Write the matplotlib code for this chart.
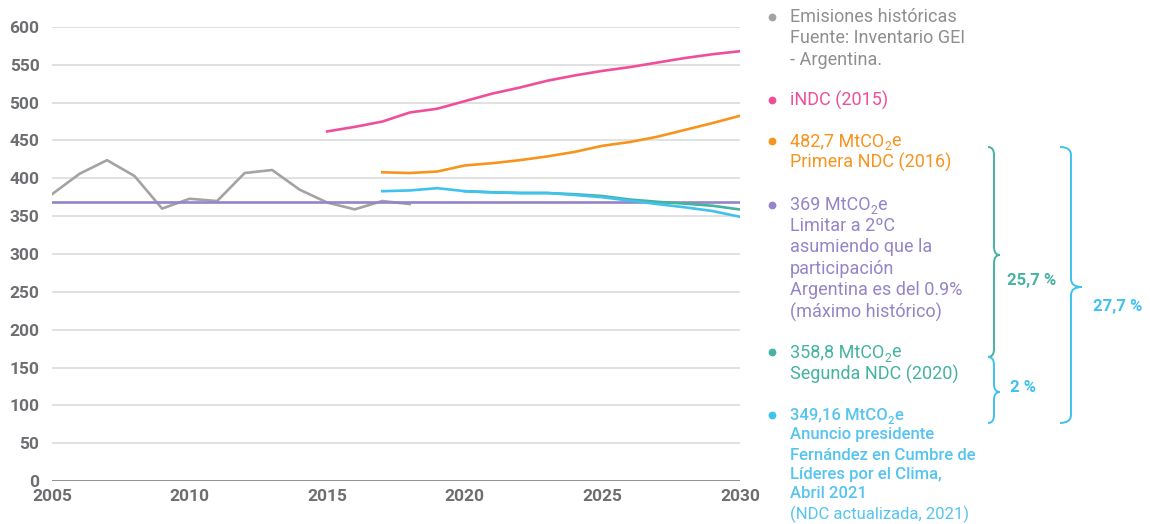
import matplotlib
matplotlib.use("Agg")
import matplotlib.pyplot as plt
from matplotlib.path import Path
from matplotlib.patches import PathPatch

plt.rcParams['font.family'] = ['Roboto', 'DejaVu Sans']

# data (MtCO2e)
hist_years = list(range(2005, 2019))
hist_vals = [379, 406, 424, 403, 360, 373, 370, 407, 411, 385, 368, 359, 370, 366]

indc_years = list(range(2015, 2031))
indc_vals = [462, 468, 475, 487, 492, 502, 512, 520, 529, 536, 542, 547, 553, 559, 564, 568]

ndc1_years = list(range(2017, 2031))
ndc1_vals = [408, 407, 409, 417, 420, 424, 429, 435, 443, 448, 455, 464, 473, 482.7]

ndc2_years = list(range(2020, 2031))
ndc2_vals = [383, 381.5, 380.6, 380.6, 379, 376.6, 372, 369, 366.5, 363.8, 358.8]

ndc21_years = list(range(2017, 2031))
ndc21_vals = [383, 384, 387, 383, 381.5, 380.6, 380.6, 378, 375, 370.5, 366, 361.7, 356.8, 349.16]

limit_years = [2005, 2030]
limit_vals = [369, 369]

c_hist = '#a3a3a3'
c_hist_txt = '#8f8f8f'
c_indc = '#ef4f9a'
c_ndc1 = '#f7941d'
c_limit = '#9584c8'
c_ndc2 = '#45b3a1'
c_ndc21 = '#3fc2ee'
c_ndc21_txt = '#55c4f0'

W, H = 1150, 524
fig = plt.figure(figsize=(W / 100, H / 100), dpi=100)
ax = fig.add_axes([52 / W, 43 / H, 688 / W, 454 / H])

ax.plot(hist_years, hist_vals, color=c_hist, lw=1.9)
ax.plot(limit_years, limit_vals, color=c_limit, lw=1.9)
ax.plot(indc_years, indc_vals, color=c_indc, lw=1.9)
ax.plot(ndc1_years, ndc1_vals, color=c_ndc1, lw=1.9)
ax.plot(ndc2_years, ndc2_vals, color=c_ndc2, lw=1.9)
ax.plot(ndc21_years, ndc21_vals, color=c_ndc21, lw=1.9)

ax.set_xlim(2005, 2030)
ax.set_ylim(0, 600)
ax.set_xticks(range(2005, 2031, 5))
ax.set_yticks(range(0, 601, 50))
ax.grid(axis='y', color='#dedede', lw=1.3)
ax.set_axisbelow(True)
for s in ax.spines.values():
    s.set_visible(False)
ax.axhline(0, color='#8a8a8a', lw=2)
ax.tick_params(length=0, labelsize=12.5, labelcolor='#6d6e71')
ax.tick_params(axis='y', pad=9)
ax.tick_params(axis='x', pad=6)
for lab in ax.get_xticklabels() + ax.get_yticklabels():
    lab.set_fontweight('bold')


def px(x, y):
    return x / W, 1 - y / H


renderer = fig.canvas.get_renderer()


def line_text(x, y, s, color, size, weight):
    # "MtCO_2e" style: subscript placed low, as in the source graphic
    if '_2' in s:
        pre, post = s.split('_2')
        t = fig.text(*px(x, y), pre, color=color, fontsize=size, va='center',
                     ha='left', fontweight=weight)
        x1 = t.get_window_extent(renderer).x1
        t2 = fig.text(x1 / W, 1 - (y + 6) / H, '2', color=color, fontsize=size * 0.68,
                      va='center', ha='left', fontweight=weight)
        x2 = t2.get_window_extent(renderer).x1
        fig.text(x2 / W, 1 - y / H, post, color=color, fontsize=size, va='center',
                 ha='left', fontweight=weight)
    else:
        fig.text(*px(x, y), s, color=color, fontsize=size, va='center', ha='left',
                 fontweight=weight)


# legend on the right
groups = [
    (c_hist, c_hist_txt, ['Emisiones históricas', 'Fuente: Inventario GEI', '- Argentina.'],
     [17, 38, 60], 'normal', 13),
    (c_indc, c_indc, ['iNDC (2015)'], [100], 'normal', 13),
    (c_ndc1, c_ndc1, ['482,7 MtCO_2e', 'Primera NDC (2016)'], [141, 162], 'normal', 13),
    (c_limit, c_limit, ['369 MtCO_2e', 'Limitar a 2ºC', 'asumiendo que la', 'participación',
                        'Argentina es del 0.9%', '(máximo histórico)'],
     [205, 226, 247, 269, 290, 312], 'normal', 13),
    (c_ndc2, c_ndc2, ['358,8 MtCO_2e', 'Segunda NDC (2020)'], [352, 374], 'normal', 13),
    (c_ndc21, c_ndc21_txt, ['349,16 MtCO_2e', 'Anuncio presidente', 'Fernández en Cumbre de',
                            'Líderes por el Clima,', 'Abril 2021'],
     [415, 435, 455, 475, 494], 'medium', 12),
]
for color, tcolor, lines, ys, weight, size in groups:
    fig.add_artist(plt.Line2D([772 / W], [1 - ys[0] / H], marker='o', ms=4.6,
                              color=color, transform=fig.transFigure))
    for t, y in zip(lines, ys):
        line_text(790, y, t, tcolor, size, weight)
line_text(790, 514, '(NDC actualizada, 2021)', c_ndc21_txt, 12, 'normal')


def brace(x0, top, bot, tip, w, color):
    xm = x0 + w / 2
    r = 8
    verts = [(x0, top), (xm, top), (xm, top + r),
             (xm, tip - r),
             (xm, tip), (x0 + w, tip), (x0 + w, tip),
             (xm, tip), (xm, tip + r),
             (xm, bot - r),
             (xm, bot), (x0, bot), (x0, bot)]
    codes = [Path.MOVETO, Path.CURVE3, Path.CURVE3,
             Path.LINETO,
             Path.CURVE3, Path.CURVE3, Path.MOVETO,
             Path.CURVE3, Path.CURVE3,
             Path.LINETO,
             Path.CURVE3, Path.CURVE3, Path.MOVETO]
    verts = [px(x, y) for x, y in verts]
    fig.add_artist(PathPatch(Path(verts, codes), fill=False, edgecolor=color, lw=1.4,
                             transform=fig.transFigure))


brace(988, 147, 357, 255, 12, c_ndc2)
brace(988, 357, 423, 392, 12, c_ndc21)
brace(1060, 147, 423, 287, 22, c_ndc21)

fig.text(*px(1032, 280), '25,7 %', color=c_ndc2, fontsize=12, fontweight='bold',
         ha='center', va='center')
fig.text(*px(1023, 388), '2 %', color=c_ndc21, fontsize=12, fontweight='bold',
         ha='center', va='center')
fig.text(*px(1118, 307), '27,7 %', color=c_ndc21, fontsize=12, fontweight='bold',
         ha='center', va='center')

fig.savefig('out.png', dpi=100)
